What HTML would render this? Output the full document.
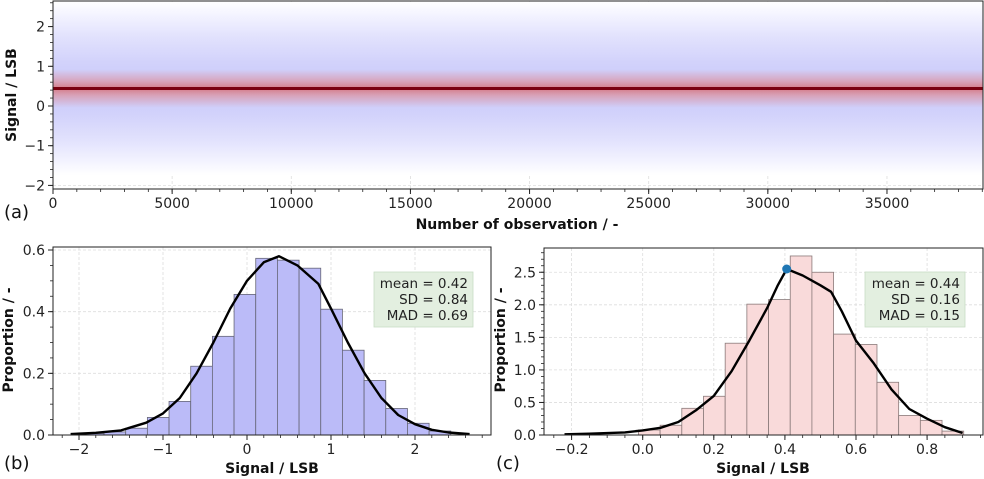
<!DOCTYPE html>
<html><head><meta charset="utf-8">
<style>
html,body{margin:0;padding:0;background:#fff;}
svg{display:block;font-family:"DejaVu Sans","Liberation Sans",sans-serif;}
</style></head>
<body>
<svg id="fig" width="984" height="479" viewBox="0 0 984 479" xmlns="http://www.w3.org/2000/svg">
<defs>
<linearGradient id="blueBand" x1="0" y1="0" x2="0" y2="1">
<stop offset="0" stop-color="#ffffff"/>
<stop offset="0.08" stop-color="#f3f3ff"/>
<stop offset="0.2" stop-color="#e2e2fd"/>
<stop offset="0.35" stop-color="#d2d2fb"/>
<stop offset="0.5" stop-color="#c8c8fa"/>
<stop offset="0.65" stop-color="#d2d2fb"/>
<stop offset="0.8" stop-color="#e2e2fd"/>
<stop offset="0.92" stop-color="#f3f3ff"/>
<stop offset="1" stop-color="#ffffff"/>
</linearGradient>
<linearGradient id="redBand" x1="0" y1="0" x2="0" y2="1">
<stop offset="0" stop-color="#e88080" stop-opacity="0"/>
<stop offset="0.3" stop-color="#e48080" stop-opacity="0.5"/>
<stop offset="0.5" stop-color="#d86060" stop-opacity="0.75"/>
<stop offset="0.7" stop-color="#e48080" stop-opacity="0.5"/>
<stop offset="1" stop-color="#e88080" stop-opacity="0"/>
</linearGradient>
</defs>
</svg>
<script>
// ---- data ----
const scatterMean = 0.44;
const scatterSD = 0.84;
const filteredSD = 0.16;
const nObs = 39030;
const topXTicks = [0,5000,10000,15000,20000,25000,30000,35000];
const topYTicks = [-2,-1,0,1,2];

const bEdgeStart = -1.96;
const bBinWidth = 0.258;
const bHeights = [0.005,0.01,0.022,0.057,0.109,0.223,0.32,0.456,0.573,0.567,0.541,0.408,0.275,0.177,0.086,0.038,0.013];
const bKdeX = [-2.1,-1.8,-1.5,-1.2,-1.0,-0.8,-0.6,-0.4,-0.2,0.0,0.2,0.38,0.6,0.85,1.0,1.2,1.4,1.6,1.8,2.0,2.2,2.4,2.65];
const bKdeY = [0.003,0.007,0.015,0.04,0.07,0.12,0.2,0.3,0.41,0.5,0.56,0.58,0.55,0.49,0.41,0.3,0.2,0.12,0.065,0.035,0.017,0.008,0.003];
const bXTicks = [-2,-1,0,1,2];
const bYTicks = [0,0.2,0.4,0.6];
const bStats = ["mean = 0.42","SD = 0.84","MAD = 0.69"];

const cEdgeStart = -0.012;
const cBinWidth = 0.061;
const cHeights = [0.077,0.15,0.41,0.595,1.41,2.01,2.08,2.75,2.5,1.55,1.39,0.81,0.30,0.225,0.06];
const cKdeX = [-0.22,-0.15,-0.05,0.0,0.05,0.1,0.15,0.2,0.25,0.3,0.35,0.38,0.405,0.45,0.5,0.53,0.56,0.6,0.65,0.7,0.75,0.8,0.85,0.9];
const cKdeY = [0.01,0.02,0.04,0.07,0.11,0.2,0.38,0.6,0.98,1.45,1.95,2.3,2.55,2.45,2.3,2.2,1.9,1.45,1.1,0.7,0.4,0.25,0.12,0.03];
const cPeak = [0.405,2.55];
const cXTicks = [-0.2,0,0.2,0.4,0.6,0.8];
const cYTicks = [0,0.5,1.0,1.5,2.0,2.5];
const cStats = ["mean = 0.44","SD = 0.16","MAD = 0.15"];

// ---- helpers ----
const svg = document.getElementById('fig');
const NS = 'http://www.w3.org/2000/svg';
function mk(tag, attrs, parent){
  const e = document.createElementNS(NS, tag);
  for (const k in attrs) e.setAttribute(k, attrs[k]);
  (parent||svg).appendChild(e);
  return e;
}
function lin(d0,d1,r0,r1){ return v => r0 + (v-d0)/(d1-d0)*(r1-r0); }

function axes(g, L, T, R, B, sx, sy, xt, yt){
  xt.forEach(v=>{ const l=mk('line',{x1:sx(v),x2:sx(v),y1:T,y2:B,stroke:'#dddddd','stroke-dasharray':'3,2','stroke-width':0.8},g);
      });
  yt.forEach(v=>{ const l=mk('line',{x1:L,x2:R,y1:sy(v),y2:sy(v),stroke:'#dddddd','stroke-dasharray':'3,2','stroke-width':0.8},g);
      });
}
function frame(g, L, T, R, B, sx, sy, xt, yt, xfmt, yfmt, minorX, minorY, xr, yr){
  const f = mk('rect',{x:L,y:T,width:R-L,height:B-T,fill:'none',stroke:'#222',"stroke-width":1},g);
   
  xt.forEach(v=>{
    mk('line',{x1:sx(v),x2:sx(v),y1:B,y2:B+5,stroke:'#222'},g);
    const t=mk('text',{x:sx(v),y:B+19,'text-anchor':'middle','font-size':14,fill:'#222'},g);
    t.textContent=xfmt(v);
     
  });
  for(let v=xr[0]; v<=xr[1]+1e-9; v+=minorX){ if(sx(v)>=L-0.5&&sx(v)<=R+0.5) mk('line',{x1:sx(v),x2:sx(v),y1:B,y2:B+3,stroke:'#222','stroke-width':0.8},g); }
  yt.forEach(v=>{
    mk('line',{x1:L-5,x2:L,y1:sy(v),y2:sy(v),stroke:'#222'},g);
    const t=mk('text',{x:L-8,y:sy(v)+5,'text-anchor':'end','font-size':14,fill:'#222'},g);
    t.textContent=yfmt(v);
     
  });
  for(let v=yr[0]; v<=yr[1]+1e-9; v+=minorY){ if(sy(v)>=T-0.5&&sy(v)<=B+0.5) mk('line',{x1:L-3,x2:L,y1:sy(v),y2:sy(v),stroke:'#222','stroke-width':0.8},g); }
}
function minus(s){ return String(s).replace('-','\u2212'); }
function label(txt,x,y,opts,name){
  const t=mk('text',Object.assign({x:x,y:y,fill:'#111'},opts));
  t.textContent=txt;
   
  return t;
}

// ---- panel a ----
(function(){
  const L=53,T=1,R=983,B=189;
  const sx=lin(0,nObs,L,R), sy=lin(0,1,106,66.3);
  const g=mk('g',{});
   
  axes(g,L,T,R,B,sx,sy,topXTicks,topYTicks);
  const band=mk('rect',{x:L,y:sy(scatterMean+2.6*scatterSD),width:R-L,height:sy(scatterMean-2.6*scatterSD)-sy(scatterMean+2.6*scatterSD),fill:'url(#blueBand)'},g);
   
  const rb=mk('rect',{x:L,y:sy(scatterMean+3*filteredSD),width:R-L,height:sy(scatterMean-3*filteredSD)-sy(scatterMean+3*filteredSD),fill:'url(#redBand)'},g);
   
  const ml=mk('line',{x1:L,x2:R,y1:sy(scatterMean),y2:sy(scatterMean),stroke:'#7a0010','stroke-width':3},g);
   
  frame(g,L,T,R,B,sx,sy,topXTicks,topYTicks,v=>String(v),v=>minus(v),1000,0.2,[0,nObs],[-2.2,2.6]);
  label('Signal / LSB',0,0,{'font-size':14,'font-weight':'bold','text-anchor':'middle',transform:'translate(16,95) rotate(-90)'},'y-axis-title-a');
  label('Number of observation / -',517,229,{'font-size':14,'font-weight':'bold','text-anchor':'middle'},'x-axis-title-a');
  label('(a)',4,218,{'font-size':18},'panel-label-a');
})();

function histPanel(cfg){
  const {L,T,R,B,sx,sy,edge0,w,heights,kx,ky,xt,yt,xfmt,yfmt,fill,edge,stats,box,name,minX,minY,xr,yr} = cfg;
  const g=mk('g',{});
   
  axes(g,L,T,R,B,sx,sy,xt,yt);
  heights.forEach((h,i)=>{
    const x0=sx(edge0+i*w), x1=sx(edge0+(i+1)*w);
    const r=mk('rect',{x:x0,y:sy(h),width:x1-x0,height:sy(0)-sy(h),fill:fill,stroke:edge,'stroke-width':0.8},g);
     
  });
  let d='';
  kx.forEach((x,i)=>{ d+=(i?'L':'M')+sx(x).toFixed(1)+','+sy(ky[i]).toFixed(1); });
  const p=mk('path',{d:d,fill:'none',stroke:'#000','stroke-width':2.4,'stroke-linejoin':'round'},g);
   
  const bx=mk('rect',{x:box[0],y:box[1],width:box[2],height:box[3],fill:'#e3efe0',stroke:'#c9dcc5','stroke-width':0.8},g);
   
  stats.forEach((s,i)=>{
    const t=mk('text',{x:box[0]+box[2]-5,y:box[1]+16+i*16,'text-anchor':'end','font-size':13.5,fill:'#222'},g);
    t.textContent=s;
     
  });
  frame(g,L,T,R,B,sx,sy,xt,yt,xfmt,yfmt,minX,minY,xr,yr);
  return g;
}

// ---- panel b ----
(function(){
  const L=53,T=247,R=491,B=435;
  const sx=lin(0,1,247,331), sy=lin(0,0.6,435,250);
  histPanel({L,T,R,B,sx,sy,edge0:bEdgeStart,w:bBinWidth,heights:bHeights,kx:bKdeX,ky:bKdeY,xt:bXTicks,yt:bYTicks,
    xfmt:v=>minus(v),yfmt:v=>v.toFixed(1),fill:'#bbbbf8',edge:'#666677',stats:bStats,box:[374,272,99,55],name:'panel-b-histogram',
    minX:0.2,minY:0.05,xr:[-2.4,2.8],yr:[0,0.6]});
  label('Proportion / -',0,0,{'font-size':14,'font-weight':'bold','text-anchor':'middle',transform:'translate(13,340) rotate(-90)'},'y-axis-title-b');
  label('Signal / LSB',272,473,{'font-size':14,'font-weight':'bold','text-anchor':'middle'},'x-axis-title-b');
  label('(b)',4,469,{'font-size':18},'panel-label-b');
})();

// ---- panel c ----
(function(){
  const L=544,T=248,R=983,B=435;
  const sx=lin(0,0.2,642.7,713.8), sy=lin(0,1,435,369.9);
  const g=histPanel({L,T,R,B,sx,sy,edge0:cEdgeStart,w:cBinWidth,heights:cHeights,kx:cKdeX,ky:cKdeY,xt:cXTicks,yt:cYTicks,
    xfmt:v=>minus(v.toFixed(1)),yfmt:v=>v.toFixed(1),fill:'#f9dada',edge:'#8a7a7a',stats:cStats,box:[865,272,100,55],name:'panel-c-histogram',
    minX:0.05,minY:0.1,xr:[-0.25,0.95],yr:[0,2.8]});
  const c=mk('circle',{cx:sx(cPeak[0]),cy:sy(cPeak[1]),r:4.5,fill:'#1f77b4'},g);
   
  label('Proportion / -',0,0,{'font-size':14,'font-weight':'bold','text-anchor':'middle',transform:'translate(505,340) rotate(-90)'},'y-axis-title-c');
  label('Signal / LSB',763,473,{'font-size':14,'font-weight':'bold','text-anchor':'middle'},'x-axis-title-c');
  label('(c)',496,469,{'font-size':18},'panel-label-c');
})();
</script>
</body></html>
